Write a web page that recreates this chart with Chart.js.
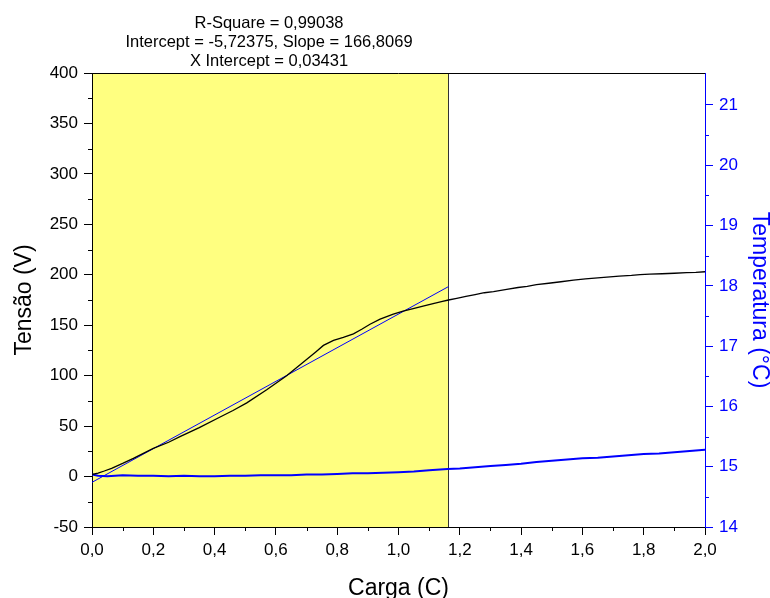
<!DOCTYPE html>
<html><head><meta charset="utf-8">
<script src="https://cdn.jsdelivr.net/npm/chart.js@4/dist/chart.umd.min.js"></script>
<style>html,body{margin:0;padding:0;background:#fff}#wrap{width:770px;height:598px;position:relative}</style>
</head><body><div id="wrap"><canvas id="c" width="770" height="598"></canvas></div>
<script>
// ---- data ----
const chargeV = [0.000, 0.02, 0.04, 0.064, 0.10, 0.135, 0.20, 0.25, 0.287, 0.35, 0.418, 0.46, 0.505, 0.57, 0.635, 0.70, 0.73, 0.755, 0.788, 0.82, 0.853, 0.88, 0.907, 0.94, 0.983, 1.015, 1.048, 1.08, 1.113, 1.14, 1.163, 1.19, 1.22, 1.25, 1.28, 1.31, 1.353, 1.39, 1.42, 1.45, 1.49, 1.53, 1.571, 1.61, 1.65, 1.68, 1.72, 1.76, 1.788, 1.82, 1.86, 1.90, 1.94, 1.97, 2.0];
const tensao = [2.0, 3.5, 5.5, 8.2, 13, 18, 28, 34, 39.5, 48.5, 59, 65.5, 73, 86, 100, 116, 123.5, 130, 135, 138, 141.5, 146, 151, 156, 161, 164, 166.5, 169, 171.5, 173.5, 175, 176.7, 178.6, 180.4, 182.2, 183.4, 185.6, 187.4, 188.6, 190.2, 191.6, 193.1, 194.8, 195.9, 197.0, 197.6, 198.6, 199.4, 200.2, 200.6, 201.0, 201.5, 202.1, 202.4, 203.0];
const chargeT = [0.00, 0.02, 0.05, 0.10, 0.15, 0.20, 0.25, 0.30, 0.35, 0.40, 0.45, 0.50, 0.55, 0.60, 0.65, 0.70, 0.75, 0.80, 0.85, 0.90, 0.95, 1.00, 1.05, 1.10, 1.16, 1.20, 1.25, 1.30, 1.35, 1.40, 1.45, 1.50, 1.55, 1.60, 1.65, 1.70, 1.75, 1.80, 1.85, 1.90, 1.95, 2.00];
const temperatura = [14.87, 14.85, 14.84, 14.86, 14.85, 14.85, 14.84, 14.85, 14.84, 14.84, 14.85, 14.85, 14.86, 14.86, 14.86, 14.87, 14.87, 14.88, 14.89, 14.89, 14.90, 14.91, 14.92, 14.94, 14.96, 14.97, 14.99, 15.01, 15.03, 15.05, 15.08, 15.10, 15.12, 15.14, 15.15, 15.17, 15.19, 15.21, 15.22, 15.24, 15.26, 15.28];
const fitX = [0.0, 1.163];
const fitY = [-5.72, 188.27];
const fitRegion = [0.0, 1.163];
const statsLines = ['R-Square = 0,99038', 'Intercept = -5,72375, Slope = 166,8069', 'X Intercept = 0,03431'];
const xLabel = 'Carga (C)';
const yLabel = 'Tensão (V)';
const y1Label = 'Temperatura (°C)';

const FONT = "'Liberation Sans', Arial, sans-serif";
const BLUE = '#0000FF';

function pts(xs, ys){ return xs.map((v,i)=>({x:v, y:ys[i]})); }
function comma(v, d){ return Number(v).toFixed(d).replace('.', ','); }

const deco = {
  id: 'deco',
  beforeDraw(chart){
    const {ctx, chartArea:a, scales:{x}} = chart;
    const x0 = x.getPixelForValue(fitRegion[0]), x1 = x.getPixelForValue(fitRegion[1]);
    ctx.save();
    ctx.fillStyle = '#FFFF80';
    ctx.fillRect(x0, a.top, x1 - x0, a.bottom - a.top);
    ctx.strokeStyle = '#333'; ctx.lineWidth = 1;
    ctx.beginPath(); ctx.moveTo(Math.round(x1) + 0.5, a.top); ctx.lineTo(Math.round(x1) + 0.5, a.bottom); ctx.stroke();
    ctx.restore();
  },
  afterDraw(chart){
    const {ctx, chartArea:a, scales:{x, y, y1}} = chart;
    ctx.save();
    ctx.lineWidth = 1;
    ctx.strokeStyle = '#000';
    ctx.beginPath(); ctx.moveTo(a.left, a.top + 0.5); ctx.lineTo(a.right, a.top + 0.5); ctx.stroke();
    const L = 4;
    ctx.beginPath();
    for (let v = 0.1; v < 2; v += 0.2) { const p = Math.round(x.getPixelForValue(v)) + 0.5; ctx.moveTo(p, a.bottom); ctx.lineTo(p, a.bottom + L); }
    for (let v = -25; v < 400; v += 50) { const p = Math.round(y.getPixelForValue(v)) + 0.5; ctx.moveTo(a.left, p); ctx.lineTo(a.left - L, p); }
    ctx.stroke();
    ctx.strokeStyle = BLUE;
    ctx.beginPath();
    for (let v = 14.5; v < 21.5; v += 1) { const p = Math.round(y1.getPixelForValue(v)) + 0.5; ctx.moveTo(a.right, p); ctx.lineTo(a.right + L, p); }
    ctx.stroke();
    ctx.fillStyle = '#000';
    ctx.font = '16.5px ' + FONT;
    ctx.textAlign = 'center'; ctx.textBaseline = 'alphabetic';
    statsLines.forEach((t, i) => ctx.fillText(t, 269, 28 + i * 19));
    ctx.restore();
  }
};

new Chart(document.getElementById('c'), {
  type: 'line',
  data: {
    datasets: [
      { data: pts(chargeV, tensao), yAxisID: 'y', borderColor: '#000', borderWidth: 1.3, pointRadius: 0, tension: 0, fill: false },
      { data: pts(chargeT, temperatura), yAxisID: 'y1', borderColor: BLUE, borderWidth: 2, pointRadius: 0, tension: 0, fill: false },
      { data: pts(fitX, fitY), yAxisID: 'y', borderColor: BLUE, borderWidth: 1, pointRadius: 0, tension: 0, fill: false }
    ]
  },
  options: {
    responsive: false, animation: false, devicePixelRatio: 1,
    layout: { padding: { top: 73, left: 0, right: 0, bottom: 0 } },
    plugins: { legend: { display: false }, tooltip: { enabled: false }, title: { display: false } },
    scales: {
      x: {
        type: 'linear', position: 'bottom', min: 0, max: 2,
        ticks: { stepSize: 0.2, color: '#000', font: { family: FONT, size: 17 }, padding: 5, maxRotation: 0, autoSkip: false, callback: v => comma(v, 1) },
        grid: { drawOnChartArea: false, drawTicks: true, tickLength: 8, color: '#000', lineWidth: 1 },
        border: { display: true, color: '#000', width: 1 },
        title: { display: true, text: xLabel, color: '#000', font: { family: FONT, size: 23, lineHeight: 1 }, padding: { top: 0, bottom: -2 } },
        afterFit(s) { s.height = 71; }
      },
      y: {
        type: 'linear', position: 'left', min: -50, max: 400,
        ticks: { stepSize: 50, color: '#000', font: { family: FONT, size: 17 }, padding: 6 },
        grid: { drawOnChartArea: false, drawTicks: true, tickLength: 8, color: '#000', lineWidth: 1 },
        border: { display: true, color: '#000', width: 1 },
        title: { display: true, text: yLabel, color: '#000', font: { family: FONT, size: 23, lineHeight: 1 }, padding: { top: 13, bottom: 0 } },
        afterFit(s) { s.width = 92; }
      },
      y1: {
        type: 'linear', position: 'right', min: 14, max: 21.53,
        ticks: { stepSize: 1, includeBounds: false, color: BLUE, font: { family: FONT, size: 17 }, padding: 6 },
        grid: { drawOnChartArea: false, drawTicks: true, tickLength: 8, color: BLUE, lineWidth: 1 },
        border: { display: true, color: BLUE, width: 1 },
        title: { display: true, text: y1Label, color: BLUE, font: { family: FONT, size: 23, lineHeight: 1 }, padding: { top: -1, bottom: 0 } },
        afterFit(s) { s.width = 65; }
      }
    }
  },
  plugins: [deco]
});
</script></body></html>
